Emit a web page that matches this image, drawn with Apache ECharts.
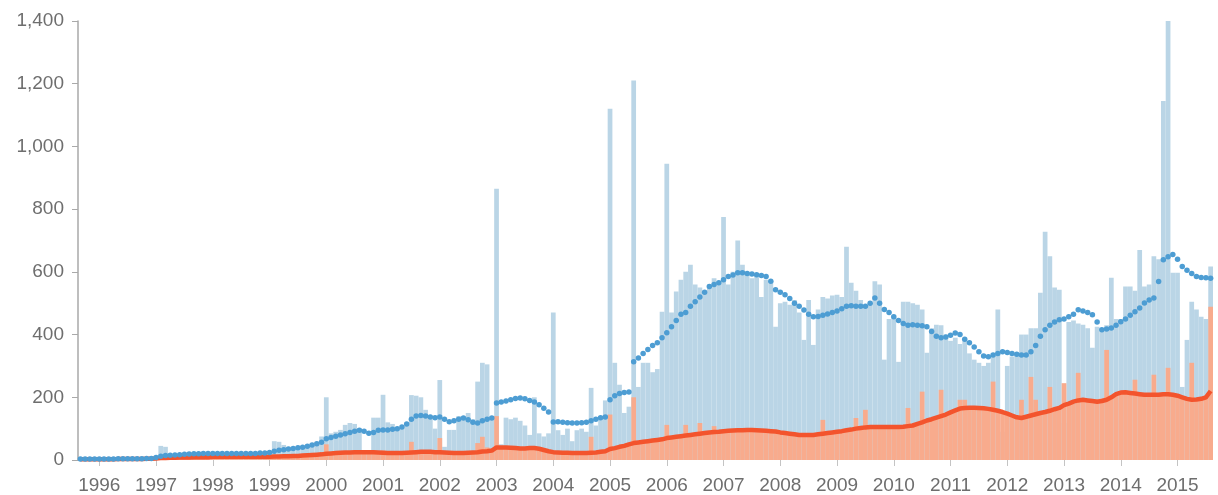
<!DOCTYPE html>
<html><head><meta charset="utf-8">
<script src="https://cdn.jsdelivr.net/npm/echarts@6/dist/echarts.min.js"></script>
<style>html,body{margin:0;padding:0;background:#fff}#c{width:1218px;height:495px}</style>
</head><body><div id="c"></div>
<script>
// Monthly series, Sep 1995 .. Aug 2015 (240 months). Rows: 1995(Sep-Dec), 1996 ... 2015(Jan-Aug)
const firstYear = 1995, firstMonth = 9, monthCount = 240;

// Total per month (light blue bars)
const total = [
  3,4,3,4,
  4,3,5,4,4,5,4,5,6,5,6,7,
  12,45,42,14,16,18,20,22,21,20,22,23,
  22,21,22,23,22,21,22,20,21,22,21,22,
  25,60,58,48,42,40,42,44,48,52,58,75,
  200,85,90,96,112,118,115,100,30,28,135,135,
  208,120,115,105,100,110,207,205,200,160,135,100,
  255,42,96,96,140,135,150,130,250,310,305,140,
  865,50,135,130,135,125,110,80,200,85,75,85,
  470,95,80,100,60,95,100,90,230,110,140,190,
  1120,310,240,150,170,1210,233,310,310,280,290,473,
  945,470,537,575,600,623,560,550,540,560,580,560,
  775,560,600,700,623,600,580,590,520,575,570,425,
  500,505,495,510,470,383,510,367,480,520,515,525,
  527,520,680,565,540,510,490,500,570,560,320,450,
  455,313,505,505,500,495,480,342,420,431,430,400,
  380,390,370,380,340,320,310,300,310,330,480,90,
  300,330,340,400,400,420,420,533,728,650,550,543,
  118,440,445,435,431,420,358,425,420,430,581,450,
  450,553,553,540,670,553,560,650,640,1145,1400,597,
  597,233,383,505,480,457,450,617
];

// Subset per month (salmon bars)
const subset = [
  2,2,2,2,
  2,2,3,2,3,3,3,3,3,4,3,4,
  5,8,7,6,7,8,8,8,9,9,9,10,
  10,10,11,10,10,11,10,10,10,11,10,10,
  11,14,12,12,13,13,14,15,15,17,18,20,
  50,22,22,24,25,24,26,25,22,20,28,27,
  30,22,22,22,22,24,58,30,28,26,25,25,
  70,20,22,22,24,22,25,24,54,74,40,32,
  140,35,40,38,38,36,36,38,40,35,30,28,
  30,22,22,22,22,22,22,22,74,25,28,32,
  145,40,42,45,50,200,56,58,60,62,66,70,
  112,72,74,76,112,80,82,118,86,88,108,90,
  92,93,94,95,95,96,96,95,94,93,92,91,
  88,86,84,82,80,80,80,82,82,128,86,88,
  90,92,95,97,134,102,160,105,105,105,105,105,
  105,105,106,166,110,115,218,126,130,135,224,145,
  152,158,192,192,167,167,166,165,163,250,157,153,
  148,142,136,192,138,265,192,150,153,233,162,166,
  245,176,180,278,188,190,192,194,196,351,200,205,
  215,216,214,256,210,208,208,272,208,210,294,208,
  205,200,195,310,193,195,200,489
];

// Trend of total (blue dots)
const totalTrend = [
  3,3,3,3,
  3,3,3,3,4,4,4,4,4,4,5,5,
  8,12,14,15,16,17,18,19,20,20,21,21,
  21,21,21,21,21,21,21,21,21,21,22,22,
  24,28,31,33,35,37,39,41,44,48,52,57,
  68,72,76,80,84,88,92,95,92,85,88,95,
  96,96,98,100,105,115,130,140,142,140,137,135,
  137,130,122,125,130,134,128,120,118,125,130,134,
  182,185,188,192,196,198,195,190,185,176,165,153,
  121,122,120,119,118,118,119,120,125,130,135,137,
  192,205,212,215,217,313,325,340,352,365,374,390,
  406,425,445,465,470,490,505,520,535,553,560,565,
  575,585,590,597,597,595,593,591,588,585,570,543,
  535,527,515,500,490,478,465,457,458,462,466,470,
  475,482,490,492,490,490,490,500,517,500,480,470,
  457,445,435,430,431,430,428,425,410,395,390,392,
  398,405,400,385,374,360,345,332,329,335,340,345,
  343,340,337,335,335,345,365,395,415,430,440,447,
  450,457,465,479,475,470,463,440,415,418,421,430,
  441,450,462,473,485,501,510,517,569,639,648,655,
  640,617,605,595,585,582,581,580
];

// Trend of subset (red line)
const subsetTrend = [
  2,2,2,2,
  2,2,2,2,3,3,3,3,3,3,4,4,
  5,6,6,7,7,8,8,8,9,9,9,9,
  10,10,10,10,10,10,10,10,10,10,10,10,
  10,11,11,12,12,13,13,14,15,16,17,18,
  20,21,22,23,24,24,25,25,25,25,25,24,
  23,22,22,22,22,23,24,25,26,26,26,25,
  25,24,23,22,22,22,23,24,25,27,28,30,
  40,40,40,39,38,37,37,38,38,36,32,28,
  25,24,23,23,22,22,22,22,23,24,26,28,
  35,38,42,45,50,54,56,58,60,62,64,66,
  70,72,74,76,78,80,82,84,86,88,89,90,
  92,93,94,95,95,96,96,95,94,93,92,91,
  88,86,84,82,80,80,80,80,82,84,86,88,
  90,92,95,97,100,102,104,105,105,105,105,105,
  105,105,106,108,110,115,120,126,130,135,140,145,
  152,158,164,166,167,167,166,165,163,160,157,153,
  148,142,136,134,138,142,146,150,153,157,162,166,
  175,180,186,190,192,190,188,186,188,192,200,210,
  215,216,214,212,210,208,208,208,208,210,210,208,
  205,200,195,192,193,195,200,220
];

// Month categories
const months = [];
for (let k = 0; k < monthCount; k++) {
  const m0 = firstMonth - 1 + k;
  const y = firstYear + Math.floor(m0 / 12);
  const m = (m0 % 12) + 1;
  months.push(y + '-' + (m < 10 ? '0' + m : '' + m));
}
const isJan = (i, v) => String(v).slice(5) === '01';

const chart = echarts.init(document.getElementById('c'), null, {renderer: 'canvas'});
chart.setOption({
  animation: false,
  backgroundColor: '#fff',
  grid: {left: 78, right: 5, top: 21, bottom: 35},
  xAxis: {
    type: 'category', data: months, boundaryGap: true,
    axisLine: {show: false},
    axisTick: {show: true, alignWithLabel: true, interval: isJan, length: 6, lineStyle: {color: '#c4c4c4', width: 1}},
    axisLabel: {interval: isJan, formatter: v => v.slice(0, 4), color: '#6e6e6e', fontSize: 19, margin: 16, fontFamily: 'Liberation Sans, Arial, sans-serif'},
    splitLine: {show: false}
  },
  yAxis: {
    type: 'value', min: 0, max: 1400, interval: 200,
    axisLine: {show: true, lineStyle: {color: '#a9a9a9', width: 1.5}},
    axisTick: {show: true, length: 6, lineStyle: {color: '#a9a9a9', width: 1}},
    splitLine: {show: false},
    axisLabel: {formatter: v => v.toLocaleString('en-US'), color: '#6e6e6e', fontSize: 19, margin: 14, fontFamily: 'Liberation Sans, Arial, sans-serif'}
  },
  series: [
    {type: 'bar', name: 'total', data: total, barCategoryGap: '0%', barGap: '-100%',
     itemStyle: {color: '#bad5e6'}, emphasis: {disabled: true}, z: 1},
    {type: 'bar', name: 'subset', data: subset, barCategoryGap: '0%', barGap: '-100%',
     itemStyle: {color: '#f8ab8d'}, emphasis: {disabled: true}, z: 2},
    {type: 'line', name: 'subsetTrend', data: subsetTrend, symbol: 'none',
     lineStyle: {color: '#f3542d', width: 4.5}, itemStyle: {color: '#f3542d'}, emphasis: {disabled: true}, z: 3},
    {type: 'line', name: 'totalTrend', data: totalTrend, symbol: 'circle', symbolSize: 5.5,
     showSymbol: true, showAllSymbol: true,
     lineStyle: {opacity: 0, width: 0}, itemStyle: {color: '#4d9dd3'}, emphasis: {disabled: true}, z: 4}
  ]
});
</script>
</body></html>
